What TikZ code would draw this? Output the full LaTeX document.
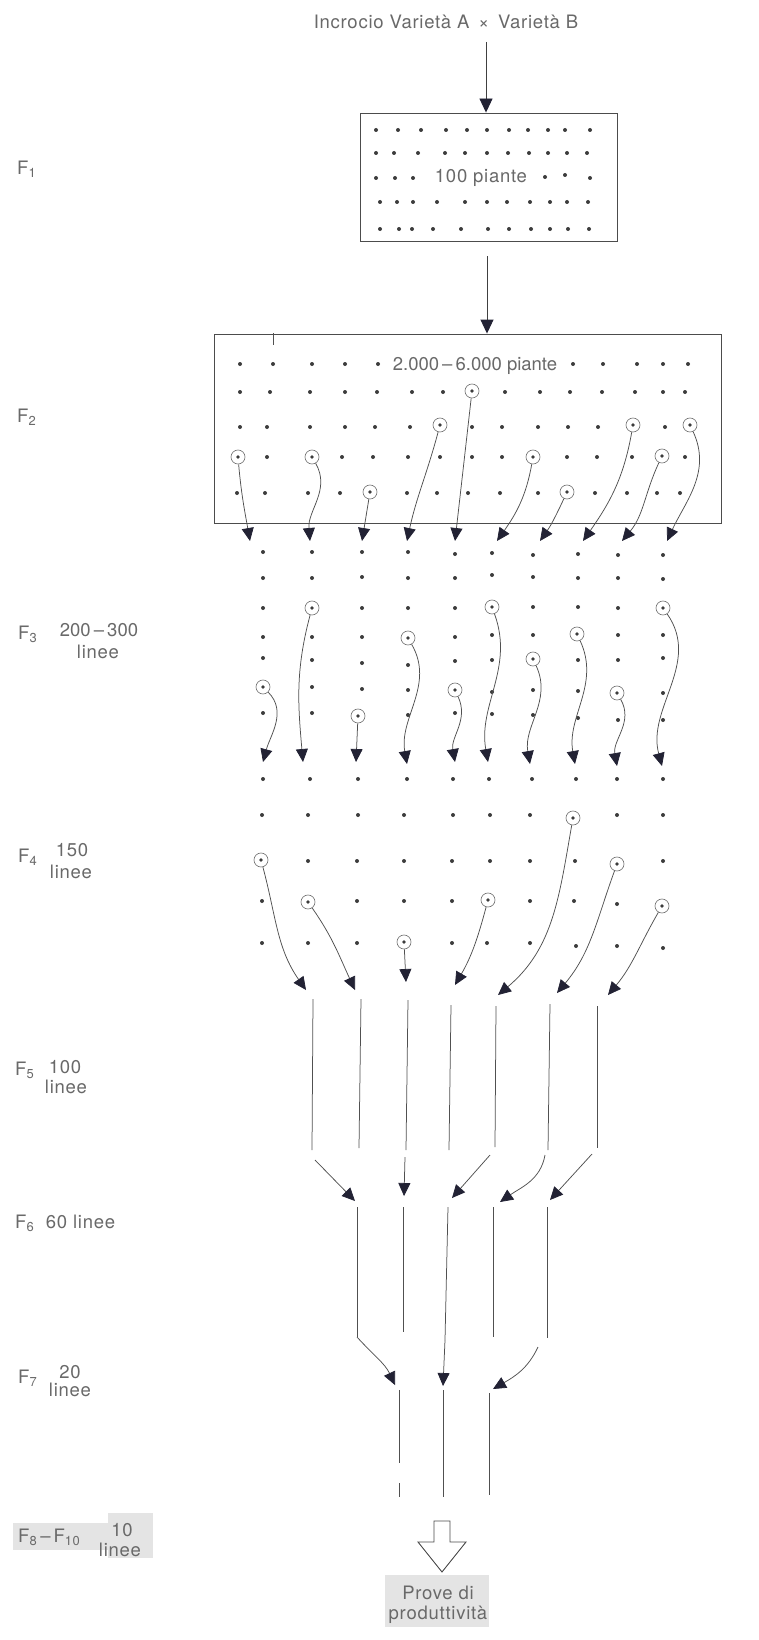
\documentclass[tikz,border=0pt]{standalone}
\usepackage{fontspec}
\setmainfont{TeX Gyre Heros}
\usetikzlibrary{arrows.meta}
\definecolor{ink}{RGB}{80,80,80}
\definecolor{tipc}{RGB}{34,34,52}
\definecolor{txt}{RGB}{105,105,105}
\definecolor{patch}{RGB}{228,228,228}
\definecolor{dotc}{RGB}{60,60,60}
\begin{document}
\begin{tikzpicture}[x=1pt,y=-1pt,
  every node/.style={inner sep=0pt},
  lab/.style={text=txt,font=\fontsize{18.5}{21}\selectfont\addfontfeature{LetterSpace=4}},
  labn/.style={text=txt,font=\fontsize{18.5}{21}\selectfont},
  boxst/.style={draw=black!70,line width=0.9pt,rectangle},
  sel/.style={circle,draw=black!55,line width=0.65pt,minimum size=14pt,inner sep=0pt,
    path picture={\fill[dotc] (path picture bounding box.center) circle (1.8pt);}},
  flow/.style={draw=ink,line width=0.75pt,-{Triangle[length=13pt,width=12pt,color=tipc]}},
  bigflow/.style={draw=black!75,line width=0.9pt,-{Triangle[length=14pt,width=13pt,color=tipc]}},
  lin/.style={draw=ink,line width=0.75pt}
]
\useasboundingbox (0,0) rectangle (759,1640);
\fill[white] (0,0) rectangle (759,1640);

% scanned grey patches
\fill[patch] (385,1575) rectangle (489,1627);
\fill[patch] (13,1523) rectangle (110,1550);
\fill[patch] (108,1513) rectangle (153,1558);

% title and first box
\node[lab] (title) at (446,22) {Incrocio Varietà A \,×\, Varietà B};
\coordinate (a0s) at (486,42);
\node[boxst,minimum width=257pt,minimum height=128pt] (box1) at (488.5,177) {};
\draw[bigflow] (a0s) -- (a0s |- box1.north);
\node[lab] (t100) at (481,178) {100 piante};

\foreach \x/\y in {376/130,398/130,421/130,446/130,467/130,487/130,509/130,528/130,548/130,565/130,590/130,
  376/153,394/153,418/153,445/153,465/153,487/153,508/153,529/153,548/153,567/153,587/153,
  376/178,395/178,413/178,545/177,565/175,590/178,
  380/202,397/202,413/202,437/202,465/202,487/202,507/202,530/202,550/202,567/202,588/202,
  380/229,399/229,412/229,433/229,461/229,488/229,509/229,531/229,550/229,568/229,589/229}
  \fill[dotc] (\x,\y) circle (2pt);

% second box
\node[boxst,minimum width=507pt,minimum height=189pt] (box2) at (467.5,428.5) {};
\coordinate (a1s) at (487,256);
\draw[bigflow] (a1s) -- (a1s |- box2.north);
\draw[lin] (273,333) -- (273,345);
\node[labn] (t2000) at (475,366) {2.000\,–\,6.000 piante};

\foreach \x/\y in {240/364,273/364,312/364,345/364,378/364,573/364,603/364,637/364,663/364,688/364,
  240/392,270/392,310/392,345/392,377/392,412/392,443/392,505/392,540/392,570/392,602/392,635/392,663/392,685/392,
  240/427,267/427,310/427,345/427,375/427,410/427,472/427,502/427,538/427,568/427,598/427,665/427,
  267/457,342/457,373/457,408/457,440/457,472/457,502/457,567/457,597/457,632/457,685/457,
  237/493,265/493,308/493,340/493,407/493,437/493,468/493,500/493,538/493,595/493,627/493,657/493,680/493}
  \fill[dotc] (\x,\y) circle (2pt);

% selected plants in F2
\node[sel] (b1) at (238,457) {};
\node[sel] (b2) at (312,457) {};
\node[sel] (b3) at (370,492) {};
\node[sel] (b4) at (440,425) {};
\node[sel] (b5) at (472,391) {};
\node[sel] (b6) at (533,457) {};
\node[sel] (b7) at (567,492) {};
\node[sel] (b8) at (633,425) {};
\node[sel] (b9) at (662,456) {};
\node[sel] (b10) at (690,425) {};
\coordinate (t1) at (250,541);
\coordinate (t2) at (310,541);
\coordinate (t3) at (362,541);
\coordinate (t4) at (407,541);
\coordinate (t5) at (455,541);
\coordinate (t6) at (497,541);
\coordinate (t7) at (540,541);
\coordinate (t8) at (583,541);
\coordinate (t9) at (622,541);
\coordinate (t10) at (667,541);
\draw[flow] (b1) to[out=-85,in=100] (t1);
\draw[flow] (b2) to[out=-60,in=95] (t2);
\draw[flow] (b3) -- (t3);
\draw[flow] (b4) to[out=-105,in=78] (t4);
\draw[flow] (b5) -- (t5);
\draw[flow] (b6) to[out=-100,in=55] (t6);
\draw[flow] (b7) to[out=-115,in=55] (t7);
\draw[flow] (b8) to[out=-100,in=55] (t8);
\draw[flow] (b9) to[out=-115,in=50] (t9);
\draw[flow] (b10) to[out=-65,in=65] (t10);

% F3 lines of plants
\foreach \x/\ys in {263/{552,578,608,637,658,713},312/{552,578,637,660,687,713},
  362/{552,577,608,637,663,689},408/{552,578,608,665,690,715},455/{554,578,608,637,661,713},
  492/{553,575,635,660,692,714},533/{555,577,607,635,690,715},578/{554,578,607,660,691,718},
  618/{555,578,608,635,660,720},663/{555,579,635,658,693,720}}
  \foreach \y in \ys \fill[dotc] (\x,\y) circle (2pt);

\node[sel] (c1) at (263,687) {};
\node[sel] (c2) at (312,608) {};
\node[sel] (c3) at (358,716) {};
\node[sel] (c4) at (408,638) {};
\node[sel] (c5) at (455,690) {};
\node[sel] (c6) at (492,607) {};
\node[sel] (c7) at (533,659) {};
\node[sel] (c8) at (577,634) {};
\node[sel] (c9) at (617,693) {};
\node[sel] (c10) at (663,608) {};
\coordinate (u1) at (263,762);
\coordinate (u2) at (303,762);
\coordinate (u3) at (356,762);
\coordinate (u4) at (407,764);
\coordinate (u5) at (455,762);
\coordinate (u6) at (488,762);
\coordinate (u7) at (530,764);
\coordinate (u8) at (575,764);
\coordinate (u9) at (617,766);
\coordinate (u10) at (662,766);
\draw[flow] (c1) to[out=-45,in=75] (u1);
\draw[flow] (c2) to[out=-105,in=95] (u2);
\draw[flow] (c3) -- (u3);
\draw[flow] (c4) to[out=-60,in=100] (u4);
\draw[flow] (c5) to[out=-65,in=100] (u5);
\draw[flow] (c6) to[out=-70,in=100] (u6);
\draw[flow] (c7) to[out=-65,in=100] (u7);
\draw[flow] (c8) to[out=-65,in=100] (u8);
\draw[flow] (c9) to[out=-60,in=100] (u9);
\draw[flow] (c10) to[out=-55,in=105] (u10);

% F4 lines of plants
\foreach \x/\y in {263/779,310/779,358/779,407/779,453/779,489/779,532/779,576/779,617/779,663/779,
  262/815,308/815,358/815,404/815,453/815,490/815,530/815,617/815,663/815,
  308/861,357/861,404/861,452/861,490/861,530/861,575/861,663/861,
  262/901,357/901,404/901,452/901,530/901,574/901,617/904,
  262/943,308/943,357/943,452/943,487/943,530/943,576/946,617/946,663/948}
  \fill[dotc] (\x,\y) circle (2pt);

\node[sel] (d1) at (261,860) {};
\node[sel] (d2) at (308,902) {};
\node[sel] (d4) at (404,942) {};
\node[sel] (d6) at (488,900) {};
\node[sel] (d8) at (573,818) {};
\node[sel] (d9) at (617,864) {};
\node[sel] (d10) at (662,906) {};
\coordinate (v1) at (306,990);
\coordinate (v2) at (355,990);
\coordinate (v4) at (406,982);
\coordinate (v6) at (455,985);
\coordinate (v8) at (498,995);
\coordinate (v9) at (557,993);
\coordinate (v10) at (608,995);
\draw[flow] (d1) to[out=-75,in=125] (v1);
\draw[flow] (d2) to[out=-55,in=115] (v2);
\draw[flow] (d4) -- (v4);
\draw[flow] (d6) to[out=-105,in=60] (v6);
\draw[flow] (d8) to[out=-100,in=40] (v8);
\draw[flow] (d9) to[out=-110,in=50] (v9);
\draw[flow] (d10) to[out=-120,in=50] (v10);

% F5 lines
\foreach \i/\xt/\yt/\xb/\yb in {1/313/999/312/1150,2/361/999/359/1148,3/408/1000/406/1150,
  4/451/1005/449/1150,5/496/1006/495/1147,6/550/1004/548/1150,7/597/1006/597/1148}{
  \coordinate (ft\i) at (\xt,\yt);
  \coordinate (fb\i) at (\xb,\yb);
  \draw[lin] (ft\i) -- (fb\i);
}
% F5 -> F6
\coordinate (g1s) at (315,1160);  \coordinate (g1t) at (355,1201);
\coordinate (g3s) at (405,1157);  \coordinate (g3t) at (404,1196);
\coordinate (g5s) at (490,1155);  \coordinate (g5t) at (452,1198);
\coordinate (g6s) at (545,1155);  \coordinate (g6t) at (500,1202);
\coordinate (g7s) at (592,1154);  \coordinate (g7t) at (550,1200);
\draw[flow] (g1s) -- (g1t);
\draw[flow] (g3s) -- (g3t);
\draw[flow] (g5s) -- (g5t);
\draw[flow] (g6s) to[out=-100,in=35] (g6t);
\draw[flow] (g7s) -- (g7t);

% F6 lines
\foreach \i/\xt/\xb/\yb in {1/357/357/1337,2/403/403/1332,3/448/445/1340,4/493/493/1337,5/547/547/1338}{
  \coordinate (ht\i) at (\xt,1207);
  \coordinate (hb\i) at (\xb,\yb);
  \draw[lin] (ht\i) -- (hb\i);
}
% F6 -> F7
\coordinate (k1t) at (395,1385);
\coordinate (k3t) at (443,1386);
\coordinate (k5s) at (538,1347);
\coordinate (k5t) at (493,1389);
\draw[flow] (hb1) to[out=-48,in=115] (k1t);
\draw[flow] (hb3) -- (k3t);
\draw[flow] (k5s) to[out=-115,in=30] (k5t);

% F7 lines
\coordinate (m1a) at (399,1390); \coordinate (m1b) at (399,1463);
\coordinate (m1c) at (399,1483); \coordinate (m1d) at (399,1497);
\coordinate (m2a) at (443,1390); \coordinate (m2b) at (443,1497);
\coordinate (m3a) at (489,1393); \coordinate (m3b) at (489,1495);
\draw[lin] (m1a) -- (m1b);
\draw[lin] (m1c) -- (m1d);
\draw[lin] (m2a) -- (m2b);
\draw[lin] (m3a) -- (m3b);

% block arrow and result
\draw[draw=black!70,line width=0.9pt,fill=white,line join=miter]
  (434,1521) -- (450,1521) -- (450,1542) -- (466,1542) -- (442,1572) -- (418,1542) -- (434,1542) -- cycle;
\node[lab] (prove1) at (438,1593) {Prove di};
\node[lab] (prove2) at (438,1615) {produttività};

% generation labels
\node[lab,anchor=west] (f1) at (17,169) {F\textsubscript{1}};
\node[lab,anchor=west] (f2) at (17,417) {F\textsubscript{2}};
\node[lab,anchor=west] (f3) at (18,634) {F\textsubscript{3}};
\node[labn] (f3a) at (99,630) {200\,–\,300};
\node[lab] (f3b) at (98,652) {linee};
\node[lab,anchor=west] (f4) at (18,857) {F\textsubscript{4}};
\node[lab] (f4a) at (72,850) {150};
\node[lab] (f4b) at (71,872) {linee};
\node[lab,anchor=west] (f5) at (15,1070) {F\textsubscript{5}};
\node[lab] (f5a) at (65,1067) {100};
\node[lab] (f5b) at (66,1087) {linee};
\node[lab,anchor=west] (f6) at (15,1223) {F\textsubscript{6}\ \ 60 linee};
\node[lab,anchor=west] (f7) at (18,1378) {F\textsubscript{7}};
\node[lab] (f7a) at (70,1372) {20};
\node[lab] (f7b) at (70,1390) {linee};
\node[lab,anchor=west] (f8) at (18,1537) {F\textsubscript{8}\,–\,F\textsubscript{10}};
\node[lab] (f8a) at (122,1530) {10};
\node[lab] (f8b) at (120,1550) {linee};
\end{tikzpicture}
\end{document}
